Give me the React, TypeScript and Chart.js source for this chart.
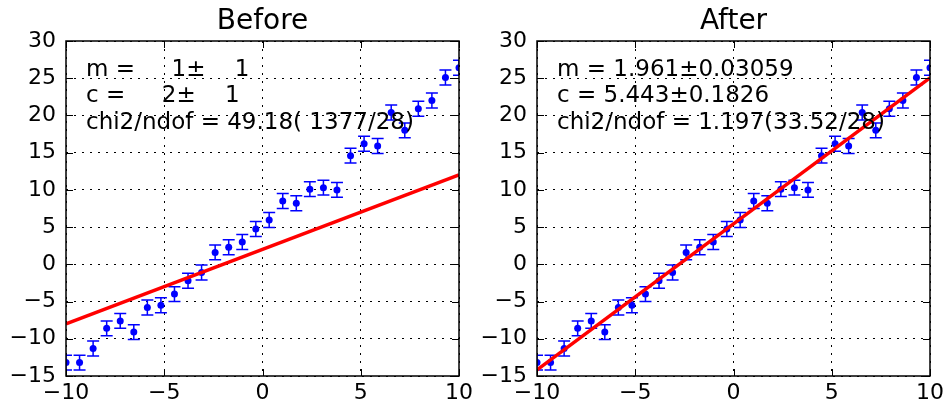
import React, { useEffect, useRef } from "react";
import { Chart, registerables } from "chart.js";

Chart.register(...registerables);

const xValues = [-10, -9.31, -8.62, -7.93, -7.24, -6.55, -5.86, -5.17, -4.48, -3.79, -3.1, -2.41, -1.72, -1.03, -0.34, 0.34, 1.03, 1.72, 2.41, 3.1, 3.79, 4.48, 5.17, 5.86, 6.55, 7.24, 7.93, 8.62, 9.31, 10];
const yValues = [-13.2, -13.2, -11.3, -8.6, -7.6, -9.1, -5.8, -5.5, -4.0, -2.2, -1.1, 1.6, 2.3, 3.0, 4.75, 5.95, 8.5, 8.2, 10.1, 10.3, 10.0, 14.6, 16.2, 15.9, 20.4, 18.0, 20.9, 22.0, 25.1, 26.4];
const yErrors = [1, 1, 1, 1, 1, 1, 1, 1, 1, 1, 1, 1, 1, 1, 1, 1, 1, 1, 1, 1, 1, 1, 1, 1, 1, 1, 1, 1, 1, 1];

const fitX = [-10, 10];
const fitBefore = [-8, 12];
const fitAfter = [-14.17, 25.05];

const textBefore = ["m =     1\u00b1    1", "c =     2\u00b1    1", "chi2/ndof = 49.18( 1377/28)"];
const textAfter = ["m = 1.961\u00b10.03059", "c = 5.443\u00b10.1826", "chi2/ndof = 1.197(33.52/28)"];

const xTicks = [-10, -5, 0, 5, 10];
const yTicks = [-15, -10, -5, 0, 5, 10, 15, 20, 25, 30];

const FONT = "'DejaVu Sans', sans-serif";

const decorPlugin = {
  id: "decor",
  beforeDatasetsDraw(chart: any) {
    const { ctx, chartArea } = chart;
    const xs = chart.scales.x;
    const ys = chart.scales.y;
    ctx.save();
    ctx.beginPath();
    ctx.rect(chartArea.left, chartArea.top, chartArea.right - chartArea.left, chartArea.bottom - chartArea.top);
    ctx.clip();
    ctx.strokeStyle = "#0000ff";
    ctx.lineWidth = 1.5;
    for (let i = 0; i < xValues.length; i++) {
      const px = xs.getPixelForValue(xValues[i]);
      const top = ys.getPixelForValue(yValues[i] + yErrors[i]);
      const bot = ys.getPixelForValue(yValues[i] - yErrors[i]);
      ctx.beginPath();
      ctx.moveTo(px, top);
      ctx.lineTo(px, bot);
      ctx.moveTo(px - 6, top);
      ctx.lineTo(px + 6, top);
      ctx.moveTo(px - 6, bot);
      ctx.lineTo(px + 6, bot);
      ctx.stroke();
    }
    ctx.restore();
  },
  afterDraw(chart: any, _args: any, opts: any) {
    const { ctx, chartArea } = chart;
    const xs = chart.scales.x;
    const ys = chart.scales.y;
    const { left, right, top, bottom } = chartArea;
    ctx.save();
    ctx.strokeStyle = "#000";
    ctx.lineWidth = 1;
    const tl = 7;
    ctx.beginPath();
    xTicks.forEach((v) => {
      const p = Math.round(xs.getPixelForValue(v)) + 0.5;
      ctx.moveTo(p, bottom);
      ctx.lineTo(p, bottom - tl);
      ctx.moveTo(p, top);
      ctx.lineTo(p, top + tl);
    });
    yTicks.forEach((v) => {
      const p = Math.round(ys.getPixelForValue(v)) + 0.5;
      ctx.moveTo(left, p);
      ctx.lineTo(left + tl, p);
      ctx.moveTo(right, p);
      ctx.lineTo(right - tl, p);
    });
    ctx.stroke();
    ctx.lineWidth = 1.5;
    ctx.strokeRect(left, top, right - left, bottom - top);
    ctx.fillStyle = "#000";
    ctx.font = `23px ${FONT}`;
    ctx.textAlign = "left";
    ctx.textBaseline = "alphabetic";
    const lines: string[] = opts.lines || [];
    lines.forEach((s, i) => {
      ctx.fillText(s, left + 20, top + 35 + i * 26.3);
    });
    ctx.restore();
  },
};

function makeConfig(title: string, fit: number[], lines: string[]) {
  const points = xValues.map((x, i) => ({ x, y: yValues[i] }));
  const line = fitX.map((x, i) => ({ x, y: fit[i] }));
  const fmt = (v: any) => String(v).replace("-", "\u2212");
  return {
    type: "scatter" as const,
    data: {
      datasets: [
        {
          type: "line" as const,
          data: line,
          borderColor: "#ff0000",
          borderWidth: 3.5,
          pointRadius: 0,
          fill: false,
          order: 0,
          clip: 0,
        },
        {
          data: points,
          backgroundColor: "#0000ff",
          borderColor: "#0000ff",
          pointRadius: 3.5,
          pointBorderWidth: 0,
          order: 1,
          clip: 0,
        },
      ],
    },
    options: {
      responsive: false,
      animation: false as const,
      devicePixelRatio: 1,
      layout: { padding: { left: 0, right: 14, top: 0, bottom: 0 } },
      plugins: {
        legend: { display: false },
        tooltip: { enabled: false },
        title: {
          display: true,
          text: title,
          fullSize: false,
          color: "#000",
          font: { family: FONT, size: 28, weight: "normal" as const, lineHeight: 1.0 },
          padding: { top: 8, bottom: 5 },
        },
        decor: { lines },
      },
      scales: {
        x: {
          type: "linear" as const,
          min: -10,
          max: 10,
          afterFit: (s: any) => {
            s.height = 30;
            s.paddingLeft = 0;
            s.paddingRight = 0;
          },
          afterBuildTicks: (s: any) => {
            s.ticks = xTicks.map((v) => ({ value: v }));
          },
          ticks: {
            color: "#000",
            padding: 4,
            autoSkip: false,
            maxRotation: 0,
            font: { family: FONT, size: 22 },
            callback: fmt,
          },
          grid: { color: "#000", lineWidth: 1, drawTicks: false },
          border: { display: false, dash: [2, 6] },
        },
        y: {
          type: "linear" as const,
          min: -15,
          max: 30,
          afterFit: (s: any) => {
            s.width = 66;
            s.paddingTop = 0;
            s.paddingBottom = 0;
          },
          afterBuildTicks: (s: any) => {
            s.ticks = yTicks.map((v) => ({ value: v }));
          },
          ticks: {
            color: "#000",
            padding: 10,
            autoSkip: false,
            font: { family: FONT, size: 22 },
            callback: fmt,
          },
          grid: { color: "#000", lineWidth: 1, drawTicks: false },
          border: { display: false, dash: [2, 6] },
        },
      },
    },
    plugins: [decorPlugin],
  };
}

export default function App() {
  const leftRef = useRef<HTMLCanvasElement | null>(null);
  const rightRef = useRef<HTMLCanvasElement | null>(null);

  useEffect(() => {
    const charts: Chart[] = [];
    if (leftRef.current) charts.push(new Chart(leftRef.current, makeConfig("Before", fitBefore, textBefore) as any));
    if (rightRef.current) charts.push(new Chart(rightRef.current, makeConfig("After", fitAfter, textAfter) as any));
    return () => charts.forEach((c) => c.destroy());
  }, []);

  return (
    <div style={{ position: "fixed", left: 0, top: 0, width: 946, height: 406, background: "#fff" }}>
      <canvas ref={leftRef} width={473} height={406} style={{ position: "absolute", left: 0, top: 0 }} />
      <canvas ref={rightRef} width={473} height={406} style={{ position: "absolute", left: 471, top: 0 }} />
    </div>
  );
}
